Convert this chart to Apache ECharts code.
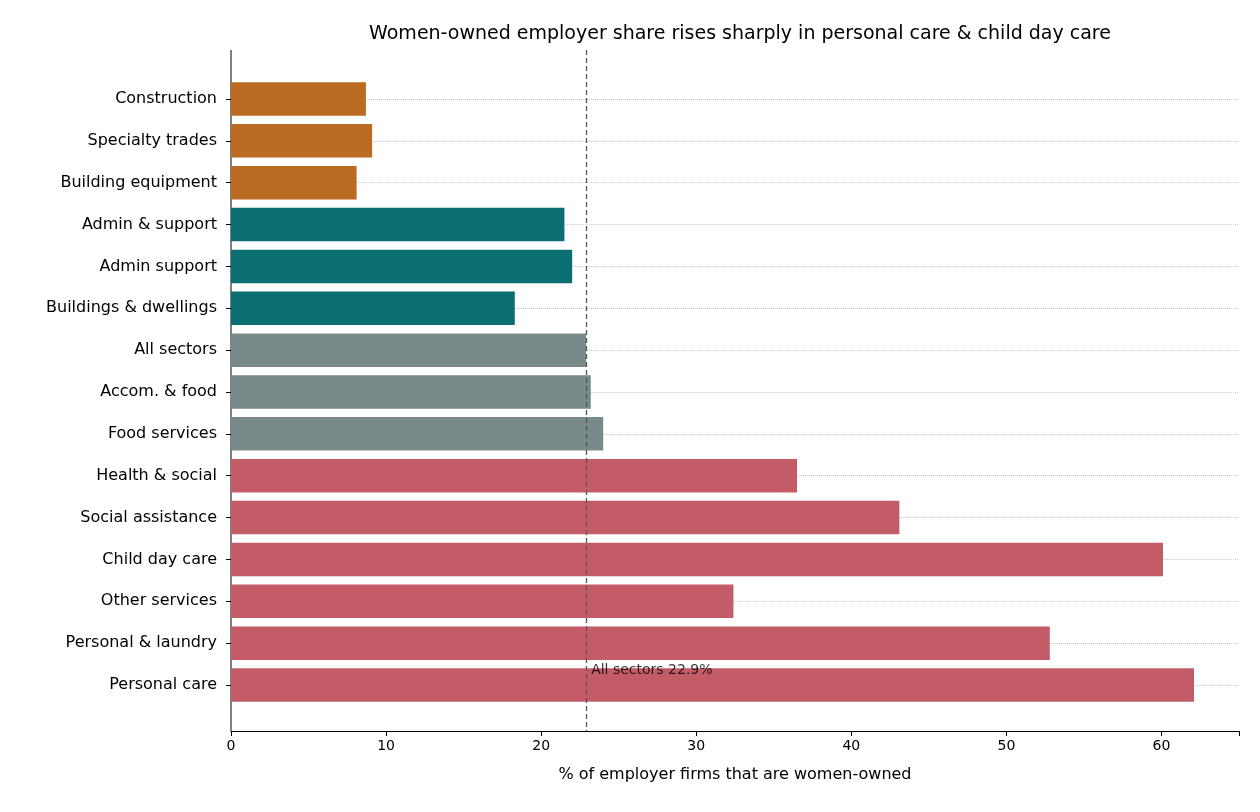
<!DOCTYPE html>
<html><head><meta charset="utf-8">
<script src="https://cdn.jsdelivr.net/npm/echarts@6/dist/echarts.min.js"></script>
<style>html,body{margin:0;padding:0;background:#fff}#c{width:1260px;height:812px}</style>
</head><body><div id="c"></div>
<script>
const categories = ["Construction","Specialty trades","Building equipment","Admin & support","Admin support","Buildings & dwellings","All sectors","Accom. & food","Food services","Health & social","Social assistance","Child day care","Other services","Personal & laundry","Personal care"];
const values = [8.7,9.1,8.1,21.5,22.0,18.3,22.9,23.2,24.0,36.5,43.1,60.1,32.4,52.8,62.1];
const groups = ["o","o","o","t","t","t","g","g","g","r","r","r","r","r","r"];
const allSectors = 22.9;
const xTicks = [0,10,20,30,40,50,60];
const colorMap = {o:"#bb6b21", t:"#0a6e72", g:"#798a8b", r:"#c45c67"};
const font = "DejaVu Sans";
const chart = echarts.init(document.getElementById('c'));
chart.setOption({
  animation:false,
  title:{text:"Women-owned employer share rises sharply in personal care & child day care",left:735,textAlign:'center',top:20,textStyle:{fontFamily:font,fontSize:19,fontWeight:'normal',color:'#000'}},
  grid:{left:231,right:21,top:78,bottom:106},
  graphic:[{type:'line',shape:{x1:231,y1:50,x2:231,y2:731},style:{stroke:'#000',lineWidth:1}}],
  xAxis:{type:'value',min:0,max:65,interval:10,offset:25,
    name:"% of employer firms that are women-owned",nameLocation:'middle',nameGap:36,
    nameTextStyle:{fontFamily:font,fontSize:16,color:'#000'},
    axisLine:{show:true,lineStyle:{color:'#000'}},axisTick:{show:true,lineStyle:{color:'#000'},length:5},
    axisLabel:{fontFamily:font,fontSize:14,color:'#000',formatter:v=>xTicks.includes(v)?String(v):''},
    splitLine:{show:false}},
  yAxis:{type:'category',data:categories,inverse:true,
    axisLine:{show:false},axisTick:{show:true,alignWithLabel:true,lineStyle:{color:'#000'},length:5},
    axisLabel:{fontFamily:font,fontSize:16,color:'#000',margin:14},splitLine:{show:false}},
  series:[
    {type:'bar',barWidth:'80%',z:3,
     data:values.map((v,i)=>({value:v,itemStyle:{color:colorMap[groups[i]]}})),
     markLine:{silent:true,symbol:'none',z:1,label:{show:false},
       lineStyle:{type:'dotted',color:'#cccccc',width:1},
       data:categories.map(c=>({yAxis:c}))}},
    {type:'line',data:[],z:5,
     markLine:{silent:true,symbol:'none',label:{show:false},
       lineStyle:{type:[5,3],color:'#555',width:1.3},
       data:[[{coord:[allSectors,0],y:50},{coord:[allSectors,0],y:731}]]}},
    {type:'scatter',symbolSize:0,z:6,
     data:[[allSectors,categories[categories.length-1]]],
     label:{show:true,position:'right',offset:[0,-15],distance:5,formatter:"All sectors "+allSectors+"%",
       fontFamily:font,fontSize:14,color:'#000'}}
  ]
});
</script></body></html>
